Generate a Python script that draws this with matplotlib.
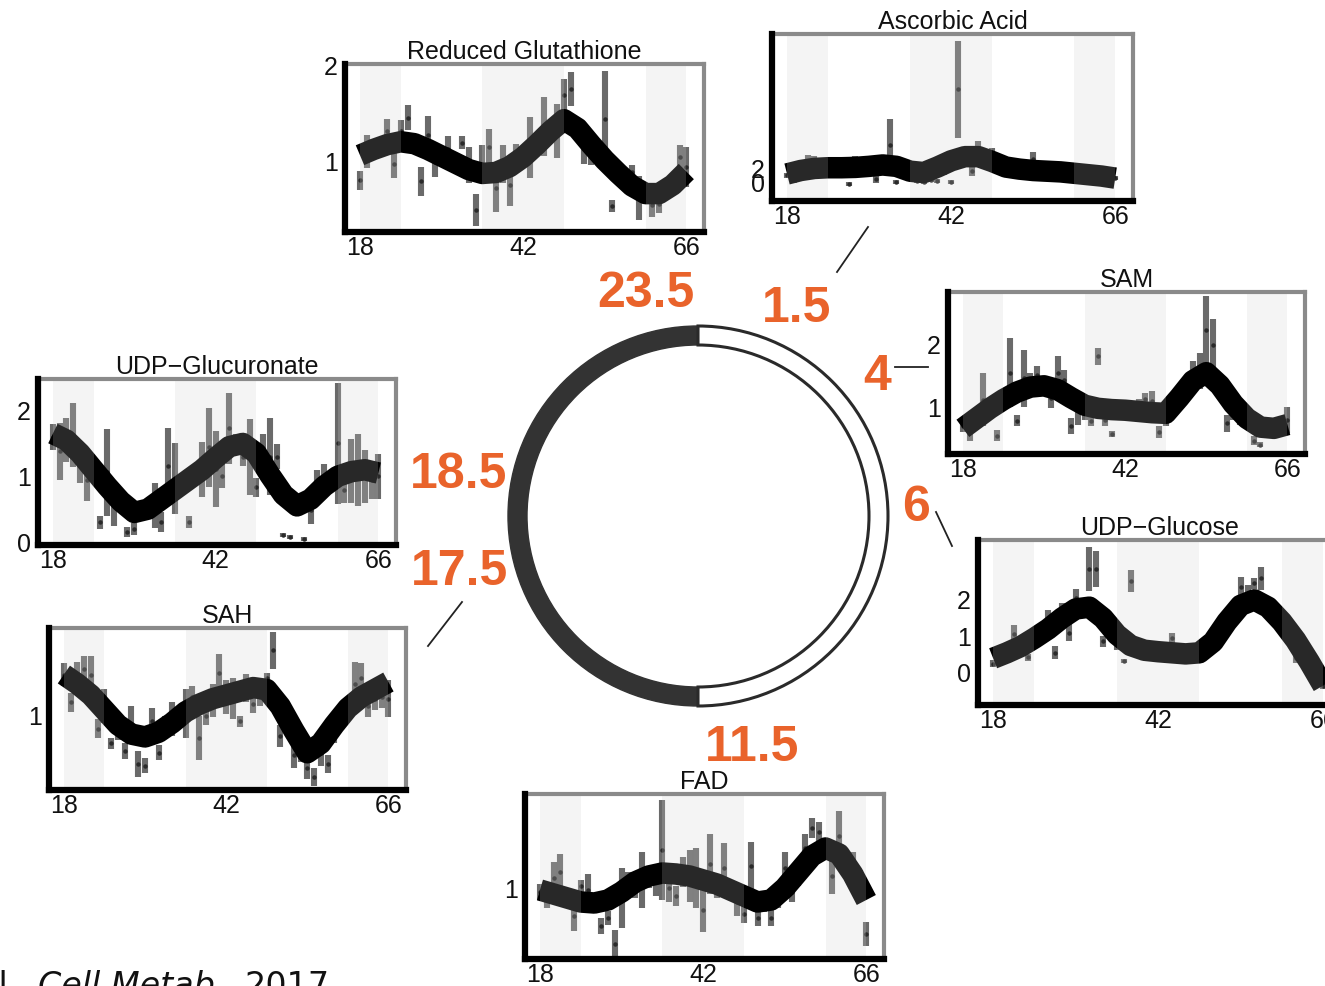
import matplotlib
matplotlib.use("Agg")
import matplotlib.pyplot as plt
from matplotlib.patches import Wedge
import numpy as np

plt.rcParams['font.family'] = ['Liberation Sans', 'DejaVu Sans']

# ------------------------------------------------------------------ data
hours = list(range(18, 67))          # sampling times (h)
fit_hours = list(range(18, 67, 2))   # smoothed-fit knots (h)
dark_periods = [(18, 24), (36, 48), (60, 66)]
x_ticks = [18, 42, 66]

gsh_mean = [0.81, 1.11, 1.12, 1.15, 1.32, 0.98, 1.32, 1.46, 1.2, 0.8,
            1.28, 1.0, 1.05, 1.13, 1.0, 1.2, 0.97, 0.5, 0.98, 1.16,
            0.73, 0.98, 0.76, 1.05, 1.05, 1.15, 1.2, 1.37, 1.3, 1.32,
            1.7, 1.76, 1.38, 1.14, 1.05, 1.1, 1.45, 0.54, 0.9, 0.82,
            0.89, 0.62, 0.68, 0.55, 0.56, 0.68, 0.75, 1.05, 0.95]
gsh_err = [0.1, 0.17, 0.05, 0.05, 0.13, 0.15, 0.12, 0.13, 0.05, 0.15,
           0.2, 0.16, 0.05, 0.14, 0.06, 0.07, 0.19, 0.17, 0.2, 0.18,
           0.25, 0.2, 0.22, 0.14, 0.06, 0.32, 0.08, 0.31, 0.08, 0.28,
           0.16, 0.18, 0.06, 0.16, 0.08, 0.05, 0.5, 0.06, 0.09, 0.06,
           0.08, 0.23, 0.06, 0.12, 0.09, 0.05, 0.06, 0.13, 0.21]
gsh_fit = [1.07, 1.13, 1.18, 1.21, 1.19, 1.13, 1.06, 0.99, 0.92, 0.88, 0.89, 0.95, 1.05,
           1.18, 1.32, 1.44, 1.35, 1.18, 1.02, 0.88, 0.75, 0.67, 0.67, 0.76, 0.9]

asc_mean = [1.0, 0.3, 1.8, 3.1, 3.0, 2.8, 1.8, 1.9, 2.0, -0.3,
            3.0, 2.2, 2.3, 0.5, 2.3, 5.4, 0.1, 1.5, 1.3, 0.2,
            0.1, 0.3, 0.2, 1.5, 0.0, 13.4, 3.5, 1.6, 4.8, 3.7,
            4.1, 2.9, 2.3, 2.1, 1.9, 1.8, 3.3, 1.7, 1.6, 2.2,
            1.5, 1.4, 1.3, 1.8, 1.1, 1.0, 0.9, 0.8, 0.6]
asc_err = [0.4, 0.4, 0.5, 0.8, 0.8, 0.7, 0.4, 0.4, 0.4, 0.3,
           0.8, 0.4, 0.4, 0.6, 0.4, 3.7, 0.3, 0.4, 0.4, 0.3,
           0.3, 0.3, 0.3, 0.4, 0.3, 7.0, 0.5, 0.7, 1.1, 0.5,
           0.9, 0.4, 0.3, 0.3, 0.3, 0.3, 1.0, 0.3, 0.3, 0.6,
           0.3, 0.3, 0.3, 0.7, 0.3, 0.3, 0.3, 0.3, 0.3]
asc_fit = [1.2, 1.7, 2.0, 2.1, 2.1, 2.15, 2.3, 2.5, 2.3, 1.6, 1.4, 2.2, 3.1,
           3.7, 3.7, 3.0, 2.2, 1.9, 1.7, 1.6, 1.5, 1.3, 1.1, 0.9, 0.6]

sam_mean = [0.7, 0.61, 0.8, 1.12, 0.95, 0.54, 1.1, 1.55, 0.78, 1.46,
            1.4, 1.52, 1.35, 1.14, 1.55, 1.44, 0.7, 0.97, 1.0, 0.77,
            1.81, 0.8, 0.57, 0.95, 1.0, 0.97, 1.05, 1.13, 1.1, 0.6,
            0.8, 1.1, 1.2, 1.35, 1.58, 1.58, 2.24, 2.0, 1.3, 0.74,
            0.9, 0.82, 0.75, 0.46, 0.4, 0.65, 0.64, 0.7, 0.79]
sam_err = [0.1, 0.16, 0.1, 0.43, 0.1, 0.09, 0.1, 0.55, 0.09, 0.46,
           0.15, 0.13, 0.1, 0.15, 0.26, 0.16, 0.13, 0.26, 0.2, 0.07,
           0.14, 0.1, 0.05, 0.1, 0.08, 0.08, 0.08, 0.1, 0.16, 0.09,
           0.1, 0.1, 0.1, 0.1, 0.15, 0.29, 0.53, 0.41, 0.1, 0.14,
           0.1, 0.1, 0.1, 0.07, 0.04, 0.08, 0.08, 0.1, 0.21]
sam_fit = [0.66, 0.82, 0.98, 1.12, 1.24, 1.32, 1.34, 1.28, 1.15, 1.03, 0.98, 0.96, 0.95,
           0.93, 0.91, 0.9, 1.15, 1.42, 1.55, 1.35, 1.05, 0.82, 0.68, 0.66, 0.72]

udpg_mean = [0.25, 0.45, 0.55, 1.07, 0.7, 0.43, 0.9, 1.05, 1.45, 0.55,
             1.6, 1.1, 2.06, 1.85, 2.84, 2.85, 0.86, 1.2, 0.77, 0.32,
             2.52, 0.7, 0.55, 0.6, 0.55, 0.6, 0.95, 0.55, 0.5, 0.52,
             0.55, 0.8, 0.9, 1.2, 1.5, 1.75, 2.36, 2.2, 2.45, 2.59,
             1.9, 1.6, 1.4, 1.1, 0.41, 0.7, 0.35, 0.0, -0.35]
udpg_err = [0.1, 0.1, 0.1, 0.25, 0.1, 0.1, 0.1, 0.1, 0.27, 0.18,
            0.32, 0.23, 0.25, 0.15, 0.61, 0.5, 0.14, 0.1, 0.14, 0.05,
            0.3, 0.1, 0.1, 0.08, 0.08, 0.1, 0.14, 0.08, 0.08, 0.08,
            0.08, 0.1, 0.1, 0.1, 0.1, 0.1, 0.27, 0.2, 0.16, 0.32,
            0.1, 0.1, 0.1, 0.1, 0.14, 0.1, 0.1, 0.1, 0.1]
udpg_fit = [0.4, 0.55, 0.72, 0.95, 1.2, 1.5, 1.75, 1.8, 1.5, 1.05, 0.75, 0.62, 0.58,
            0.55, 0.52, 0.55, 0.85, 1.4, 1.85, 2.0, 1.8, 1.4, 0.9, 0.3, -0.35]

fad_mean = [0.98, 0.95, 1.05, 1.08, 0.95, 0.86, 1.01, 0.99, 0.92, 0.81,
            0.85, 0.72, 0.95, 1.05, 1.0, 1.04, 1.05, 1.04, 1.19, 1.0,
            0.96, 1.08, 1.06, 1.05, 0.89, 1.12, 1.0, 1.1, 0.99, 0.93,
            0.87, 1.11, 0.85, 0.93, 0.85, 0.95, 1.1, 0.98, 1.06, 1.2,
            1.3, 1.28, 1.2, 1.06, 1.26, 1.12, 1.09, 1.02, 0.77]
fad_err = [0.04, 0.05, 0.08, 0.09, 0.05, 0.075, 0.03, 0.08, 0.04, 0.04,
           0.035, 0.07, 0.15, 0.03, 0.05, 0.14, 0.05, 0.08, 0.25, 0.07,
           0.05, 0.075, 0.13, 0.15, 0.11, 0.15, 0.05, 0.125, 0.05, 0.07,
           0.045, 0.12, 0.04, 0.05, 0.04, 0.05, 0.08, 0.05, 0.05, 0.07,
           0.05, 0.05, 0.05, 0.09, 0.125, 0.06, 0.09, 0.07, 0.06]
fad_fit = [0.99, 0.97, 0.95, 0.93, 0.925, 0.94, 0.98, 1.03, 1.06, 1.075, 1.07, 1.06, 1.04,
           1.02, 0.99, 0.96, 0.93, 0.94, 1.0, 1.08, 1.16, 1.2, 1.17, 1.07, 0.94]

sah_mean = [1.22, 1.07, 1.22, 1.25, 1.22, 0.93, 1.05, 0.85, 0.92, 0.81,
            0.95, 0.74, 0.73, 0.97, 0.8, 0.95, 0.98, 1.0, 1.01, 1.1,
            0.88, 1.0, 1.08, 1.23, 1.1, 1.09, 0.97, 1.15, 1.06, 1.1,
            1.2, 1.35, 0.89, 0.95, 0.79, 0.8, 0.72, 0.67, 0.8, 0.74,
            0.9, 0.99, 1.05, 1.17, 1.2, 1.05, 1.09, 1.1, 1.09]
sah_err = [0.06, 0.05, 0.07, 0.07, 0.1, 0.05, 0.09, 0.03, 0.05, 0.045,
           0.1, 0.07, 0.04, 0.07, 0.04, 0.05, 0.09, 0.05, 0.13, 0.06,
           0.12, 0.05, 0.09, 0.1, 0.09, 0.11, 0.03, 0.075, 0.045, 0.05,
           0.03, 0.1, 0.06, 0.05, 0.07, 0.05, 0.06, 0.05, 0.07, 0.05,
           0.05, 0.07, 0.05, 0.12, 0.08, 0.06, 0.06, 0.06, 0.1]
sah_fit = [1.22, 1.17, 1.11, 1.03, 0.95, 0.9, 0.885, 0.91, 0.96, 1.02, 1.06, 1.09, 1.11,
           1.13, 1.15, 1.14, 1.05, 0.92, 0.8, 0.85, 0.95, 1.04, 1.1, 1.14, 1.18]

udpga_mean = [1.6, 1.38, 1.55, 1.63, 1.2, 0.95, 1.1, 0.3, 1.06, 0.57,
              0.6, 0.15, 0.2, 0.5, 0.5, 0.56, 0.3, 1.16, 0.96, 0.9,
              0.3, 1.0, 1.1, 1.44, 1.11, 1.0, 1.73, 1.5, 1.3, 1.29,
              0.83, 1.3, 1.3, 1.3, 0.1, 0.08, 0.55, 0.05, 0.48, 0.9,
              0.95, 1.0, 1.5, 0.79, 1.08, 1.1, 1.0, 0.95, 1.0]
udpga_err = [0.2, 0.43, 0.34, 0.49, 0.3, 0.33, 0.1, 0.1, 0.66, 0.33,
             0.1, 0.08, 0.09, 0.1, 0.1, 0.34, 0.15, 0.58, 0.54, 0.1,
             0.09, 0.1, 0.42, 0.6, 0.58, 0.18, 0.54, 0.15, 0.15, 0.58,
             0.15, 0.34, 0.58, 0.19, 0.03, 0.03, 0.1, 0.03, 0.2, 0.2,
             0.24, 0.1, 0.92, 0.2, 0.49, 0.55, 0.4, 0.29, 0.34]
udpga_fit = [1.65, 1.55, 1.35, 1.1, 0.85, 0.62, 0.45, 0.5, 0.65, 0.8, 0.95, 1.1, 1.28,
             1.45, 1.5, 1.35, 1.02, 0.72, 0.55, 0.65, 0.85, 1.0, 1.07, 1.1, 1.05]

peak_labels = ["23.5", "1.5", "4", "6", "11.5", "17.5", "18.5"]

# ------------------------------------------------------------------ layout
W, H = 1325, 986
fig = plt.figure(figsize=(W / 100, H / 100), dpi=100)
fig.patch.set_facecolor("white")

ORANGE = "#E9632B"

# overlay axes in pixel coordinates (clock ring, labels, connectors)
ov = fig.add_axes([0, 0, 1, 1])
ov.set_xlim(0, W)
ov.set_ylim(H, 0)
ov.axis("off")

cx, cy, R, ring_w = 698, 516, 190, 19
ov.add_patch(Wedge((cx, cy), R, 90, 270, width=ring_w, facecolor="#333333",
                   edgecolor="#333333", lw=1))
ov.add_patch(Wedge((cx, cy), R, -90, 90, width=ring_w, facecolor="white",
                   edgecolor="#2a2a2a", lw=2.2))

label_pos = [(646, 307), (797, 322), (877, 390), (916, 521),
             (752, 761), (459, 585), (459, 488)]
for txt, (x, y) in zip(peak_labels, label_pos):
    ov.text(x, y, txt, color=ORANGE, fontsize=36, fontweight="bold",
            ha="center", va="baseline")

connectors = [((837, 272), (868, 227)), ((895, 367), (928, 367)),
              ((936, 512), (952, 546)), ((462, 602), (428, 646))]
for (x0, y0), (x1, y1) in connectors:
    ov.plot([x0, x1], [y0, y1], color="#222222", lw=1.3)

# citation (cut by bottom edge as in reference)
ov.text(19, 996, "et al.", ha="right", va="baseline", fontsize=24,
        family="DejaVu Sans", color="#111111")
ov.text(38, 996, "Cell Metab.", ha="left", va="baseline", fontsize=24,
        family="DejaVu Sans", style="italic", color="#111111")
ov.text(330, 996, "2017", ha="right", va="baseline", fontsize=24,
        family="DejaVu Sans", color="#111111")

panels = [
    ("Reduced Glutathione", gsh_mean, gsh_err, gsh_fit, (345, 64, 704, 232), (0.27, 2.02), [1, 2]),
    ("Ascorbic Acid", asc_mean, asc_err, asc_fit, (772, 34, 1133, 201), (-2.7, 21.4), [0, 2]),
    ("SAM", sam_mean, sam_err, sam_fit, (948, 292, 1305, 454), (0.25, 2.84), [1, 2]),
    ("UDP\u2212Glucose", udpg_mean, udpg_err, udpg_fit, (978, 540, 1341, 705), (-0.88, 3.64), [0, 1, 2]),
    ("FAD", fad_mean, fad_err, fad_fit, (525, 794, 884, 959), (0.645, 1.47), [1]),
    ("SAH", sah_mean, sah_err, sah_fit, (49, 628, 406, 790), (0.60, 1.47), [1]),
    ("UDP\u2212Glucuronate", udpga_mean, udpga_err, udpga_fit, (38, 379, 396, 545), (-0.045, 2.48), [0, 1, 2]),
]

for title, mean, err, fit, (l, t, r, b), ylim, yt in panels:
    ax = fig.add_axes([l / W, 1 - b / H, (r - l) / W, (b - t) / H])
    ax.set_facecolor("white")
    for a0, a1 in dark_periods:
        ax.axvspan(a0, a1, color="#f2f2f2", lw=0, zorder=0)
    m = np.array(mean)
    e = np.array(err)
    ax.vlines(hours, m - e, m + e, color="#555555", lw=4.4, alpha=0.88, zorder=2)
    ax.plot(hours, m, "o", ms=2.2, color="#2a2a2a", zorder=3)
    ax.plot(fit_hours, fit, color="black", lw=15.5, solid_capstyle="butt",
            solid_joinstyle="round", zorder=4)
    for a0, a1 in dark_periods:
        ax.axvspan(a0, a1, color="white", alpha=0.16, lw=0, zorder=5)
    ax.set_xlim(15.8, 68.6)
    ax.set_ylim(*ylim)
    ax.set_xticks(x_ticks)
    ax.set_yticks(yt)
    ax.tick_params(length=0, labelsize=18, colors="#111111")
    ax.tick_params(axis="x", pad=3)
    ax.tick_params(axis="y", pad=5)
    for s in ("left", "bottom"):
        ax.spines[s].set_color("black")
        ax.spines[s].set_linewidth(4.5)
        ax.spines[s].set_zorder(7)
    for s in ("top", "right"):
        ax.spines[s].set_color("#8a8a8a")
        ax.spines[s].set_linewidth(3)
        ax.spines[s].set_zorder(6)
    ax.set_title(title, fontsize=18, pad=1, color="#111111")

fig.savefig("out.png", dpi=100, facecolor="white")
